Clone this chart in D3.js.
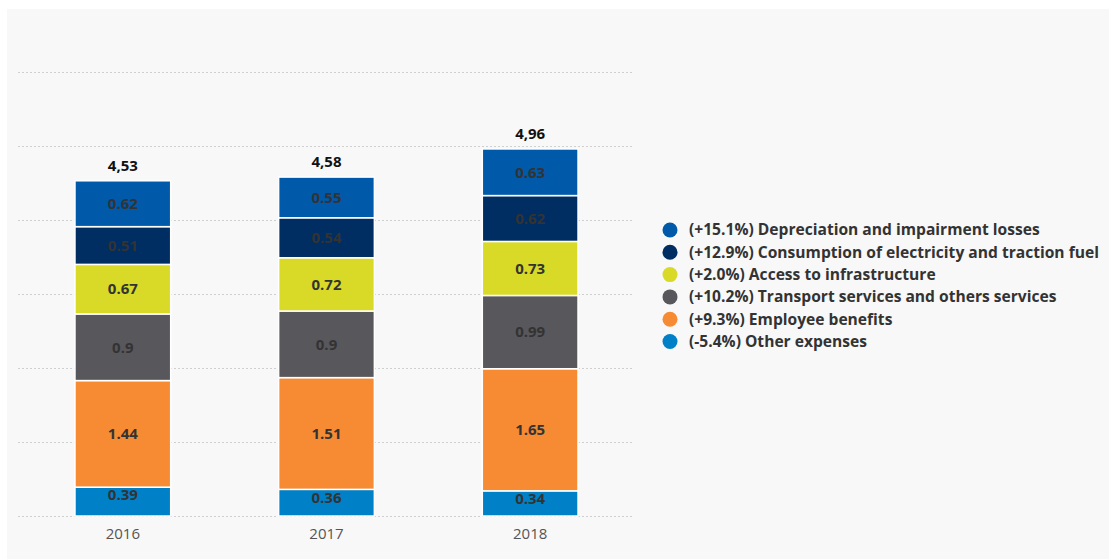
<!DOCTYPE html>
<html>
<head>
<meta charset="utf-8">
<script src="https://cdn.jsdelivr.net/npm/d3@7"></script>
<style>
	body { margin: 0; background: #fff; }
	svg { display: block; font-family: "Open Sans", "Noto Sans", sans-serif; }
</style>
</head>
<body>
<div id="chart"></div>
<script>

var years = ["2016", "2017", "2018"];
var totals = ["4,53", "4,58", "4,96"];
// stacked from bottom to top
var seriesNames = ["Other expenses", "Employee benefits", "Transport services and others services",
	"Access to infrastructure", "Consumption of electricity and traction fuel", "Depreciation and impairment losses"];
var seriesChange = ["-5.4%", "+9.3%", "+10.2%", "+2.0%", "+12.9%", "+15.1%"];
var seriesColors = ["#0080c6", "#f68b33", "#58575c", "#d9da27", "#002e62", "#0059a9"];
var otherExpenses = [0.39, 0.36, 0.34];
var employeeBenefits = [1.44, 1.51, 1.65];
var transportServices = [0.9, 0.9, 0.99];
var accessInfra = [0.67, 0.72, 0.73];
var electricityFuel = [0.51, 0.54, 0.62];
var depreciation = [0.62, 0.55, 0.63];
var yTicks = [0, 1, 2, 3, 4, 5, 6];

var seriesValues = [otherExpenses, employeeBenefits, transportServices, accessInfra, electricityFuel, depreciation];

var table = years.map(function(y, i) {
	var row = { year: y };
	seriesNames.forEach(function(n, j) { row[n] = seriesValues[j][i]; });
	return row;
});

var width = 1109, height = 559;

var svg = d3.select("#chart").append("svg")
	.attr("width", width)
	.attr("height", height);

svg.append("rect")
	.attr("x", 7).attr("y", 9)
	.attr("width", width - 7).attr("height", height - 9)
	.attr("fill", "#f8f8f8");

var x = d3.scaleBand().domain(years).range([21, 632]).paddingInner(0.53).paddingOuter(0.265);
var y = d3.scaleLinear().domain([0, 6]).range([516, 72]);

// gridlines
svg.append("g").selectAll("line")
	.data(yTicks)
	.enter().append("line")
	.attr("x1", 18).attr("x2", 632)
	.attr("y1", function(d) { return y(d) + 0.5; })
	.attr("y2", function(d) { return y(d) + 0.5; })
	.attr("stroke", "#cfcfcf")
	.attr("stroke-dasharray", "2,2");

var stack = d3.stack().keys(seriesNames);
var layers = stack(table);

var groups = svg.append("g").selectAll("g")
	.data(layers)
	.enter().append("g")
	.attr("fill", function(d, i) { return seriesColors[i]; });

groups.selectAll("rect")
	.data(function(d) { return d; })
	.enter().append("rect")
	.attr("x", function(d) { return x(d.data.year); })
	.attr("y", function(d) { return y(d[1]); })
	.attr("width", x.bandwidth())
	.attr("height", function(d) { return y(d[0]) - y(d[1]); })
	.attr("stroke", "#fff")
	.attr("stroke-width", 1.5);

// segment labels
groups.selectAll("text")
	.data(function(d) { return d.map(function(p) { p.key = d.key; return p; }); })
	.enter().append("text")
	.attr("x", function(d) { return x(d.data.year) + x.bandwidth() / 2; })
	.attr("y", function(d) {
		var h = y(d[0]) - y(d[1]);
		if (h < 32) return y(d[1]) + 8;
		return (y(d[0]) + y(d[1])) / 2;
	})
	.attr("dy", "0.35em")
	.attr("text-anchor", "middle")
	.attr("font-size", 15)
	.attr("font-weight", "bold")
	.attr("fill", "#333")
	.text(function(d) { return d.data[d.key]; });

// totals
var topLayer = layers[layers.length - 1];
svg.append("g").selectAll("text")
	.data(topLayer)
	.enter().append("text")
	.attr("x", function(d) { return x(d.data.year) + x.bandwidth() / 2; })
	.attr("y", function(d) { return y(d[1]) - 10; })
	.attr("text-anchor", "middle")
	.attr("font-size", 15)
	.attr("font-weight", "bold")
	.attr("fill", "#111")
	.text(function(d, i) { return totals[i]; });

// x axis
var xAxis = svg.append("g")
	.attr("transform", "translate(0,516)")
	.call(d3.axisBottom(x).tickSize(0).tickPadding(12));
xAxis.select(".domain").remove();
xAxis.selectAll("text")
	.attr("font-size", 15)
	.attr("font-family", "\"Open Sans\", sans-serif")
	.attr("fill", "#555");

// legend (top to bottom)
var legendOrder = d3.range(seriesNames.length).reverse();
var legend = svg.append("g").selectAll("g")
	.data(legendOrder)
	.enter().append("g")
	.attr("transform", function(d, i) { return "translate(670," + (230 + i * 22.3) + ")"; });

legend.append("circle")
	.attr("r", 7.5)
	.attr("fill", function(d) { return seriesColors[d]; });

legend.append("text")
	.attr("x", 19)
	.attr("dy", "0.35em")
	.attr("font-size", 15.6)
	.attr("font-weight", "bold")
	.attr("fill", "#333")
	.text(function(d) { return "(" + seriesChange[d] + ") " + seriesNames[d]; });

</script>
</body>
</html>
